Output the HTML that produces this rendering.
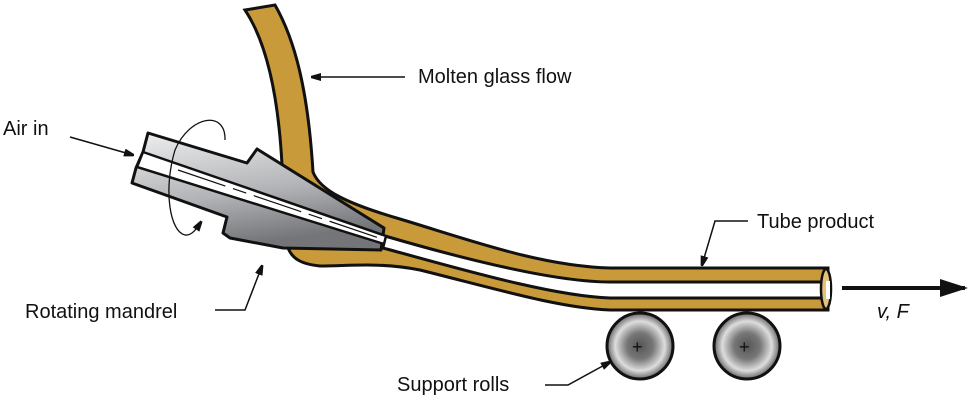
<!DOCTYPE html>
<html><head><meta charset="utf-8"><style>
html,body{margin:0;padding:0;background:#fff;}
svg{display:block;}
text{font-family:"Liberation Sans",sans-serif;font-size:20px;fill:#111;}
</style></head><body>
<svg width="975" height="402" viewBox="0 0 975 402">
<defs>
<linearGradient id="gm" x1="0" y1="0" x2="0.3" y2="1">
<stop offset="0" stop-color="#eeeff0"/><stop offset="0.6" stop-color="#b0b2b5"/><stop offset="1" stop-color="#737578"/>
</linearGradient>
<radialGradient id="rg"><stop offset="0" stop-color="#555"/><stop offset="0.4" stop-color="#777"/><stop offset="0.75" stop-color="#ddd"/><stop offset="1" stop-color="#666"/></radialGradient>
<marker id="ah" markerWidth="10" markerHeight="8" refX="9" refY="4" orient="auto" markerUnits="userSpaceOnUse"><path d="M0,0 L14,4 L0,8 Z" fill="#111"/></marker>
</defs>
<path d="M245,10 L275,5 C295,40 308,90 313,172 C320,190 345,203 400,219 C470,240 540,266 610,268 L828,268 L828,310 L610,310 C560,308 500,290 420,270 C380,262 350,266 320,266 C300,264 292,258 288,248 L300,200 L282,165 C278,90 265,40 245,10 Z" fill="#c99a3a" stroke="#111" stroke-width="3"/>
<path d="M385,236 C450,255 550,282 610,282 L828,282 L828,298 L610,298 C550,296 450,266 383,248 Z" fill="#fff" stroke="#111" stroke-width="3"/>
<ellipse cx="826" cy="289" rx="5" ry="20" fill="#e3c27a" stroke="#111" stroke-width="2.5"/>
<rect x="826" y="281" width="4" height="18" fill="#fff"/>
<path d="M148,133 L247,163 L257,149 L384,228 L381,250 L283,248 L230,238 L223,233 L227,217 L132,183 L136,168 L143,152 Z" fill="url(#gm)" stroke="#111" stroke-width="3" stroke-linejoin="round"/>
<path d="M143,152 L386,236 L384,244 L137,167 Z" fill="#fff" stroke="#111" stroke-width="2.5"/>
<line x1="178" y1="170" x2="385" y2="240" stroke="#111" stroke-width="1.2" stroke-dasharray="50,8,14,8"/>
<path d="M225,140 C226,110 190,115 175,150 C163,190 170,232 185,235 C192,236 197,228 201,222" fill="none" stroke="#111" stroke-width="1.3" marker-end="url(#ah)"/>
<g><circle cx="640" cy="346" r="33" fill="url(#rg)" stroke="#111" stroke-width="3"/><text x="632" y="353" style="font-size:18px">+</text></g>
<g><circle cx="747" cy="346" r="33" fill="url(#rg)" stroke="#111" stroke-width="3"/><text x="739" y="353" style="font-size:18px">+</text></g>
<line x1="842" y1="288" x2="965" y2="288" stroke="#111" stroke-width="4"/>
<path d="M940,279 L968,288 L940,297 Z" fill="#111"/>
<text x="877" y="318" style="font-style:italic">v, F</text>
<line x1="405" y1="77" x2="312" y2="77" stroke="#111" stroke-width="1.5" marker-end="url(#ah)"/>
<text x="418" y="83">Molten glass flow</text>
<line x1="70" y1="137" x2="133" y2="155" stroke="#111" stroke-width="1.5" marker-end="url(#ah)"/>
<text x="3" y="135">Air in</text>
<polyline points="215,310 245,310 262,266" fill="none" stroke="#111" stroke-width="1.5" marker-end="url(#ah)"/>
<text x="25" y="318">Rotating mandrel</text>
<polyline points="748,221 715,221 702,265" fill="none" stroke="#111" stroke-width="1.5" marker-end="url(#ah)"/>
<text x="757" y="228">Tube product</text>
<polyline points="545,385 568,385 610,362" fill="none" stroke="#111" stroke-width="1.5" marker-end="url(#ah)"/>
<text x="397" y="391">Support rolls</text>
</svg>
</body></html>
